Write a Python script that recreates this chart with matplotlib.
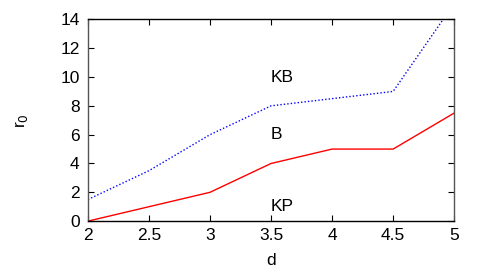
import matplotlib
matplotlib.use("Agg")
import matplotlib.pyplot as plt

plt.rcParams['font.family'] = ['Liberation Sans', 'DejaVu Sans']

d = [2, 2.5, 3, 3.5, 4, 4.5, 5]
r0_kp = [0, 1, 2, 4, 5, 5, 7.5]
r0_kb = [1.5, 3.5, 6, 8, 8.5, 9, 15.1]

labels = ["KB", "B", "KP"]
label_x = [3.5, 3.5, 3.5]
label_y = [10, 6, 1]

fig = plt.figure(figsize=(4.91, 2.73), dpi=100)
ax = fig.add_axes([0.179, 0.19, 0.746, 0.739])

ax.plot(d, r0_kp, color='red', linewidth=1)
ax.plot(d, r0_kb, color='blue', linewidth=1, linestyle=(0, (1, 1.5)))

for t, x, y in zip(labels, label_x, label_y):
    ax.text(x, y, t, fontsize=12.5, va='center', ha='left')

ax.set_xlim(2, 5)
ax.set_ylim(0, 14)
ax.set_xticks([2, 2.5, 3, 3.5, 4, 4.5, 5])
ax.set_xticklabels(["2", "2.5", "3", "3.5", "4", "4.5", "5"])
ax.set_yticks(range(0, 15, 2))
ax.tick_params(direction='in', top=True, right=True, labelsize=12.5, length=4, width=0.8)
ax.tick_params(axis='x', pad=5)
ax.tick_params(axis='y', pad=6)
for s in ax.spines.values():
    s.set_linewidth(1)
ax.spines['left'].set_color('#555555')
ax.spines['right'].set_color('#555555')

ax.set_xlabel("d", fontsize=12.5, labelpad=7)
ax.set_ylabel("r$_0$", fontsize=12.5, labelpad=22)

fig.savefig("out.png", dpi=100)
